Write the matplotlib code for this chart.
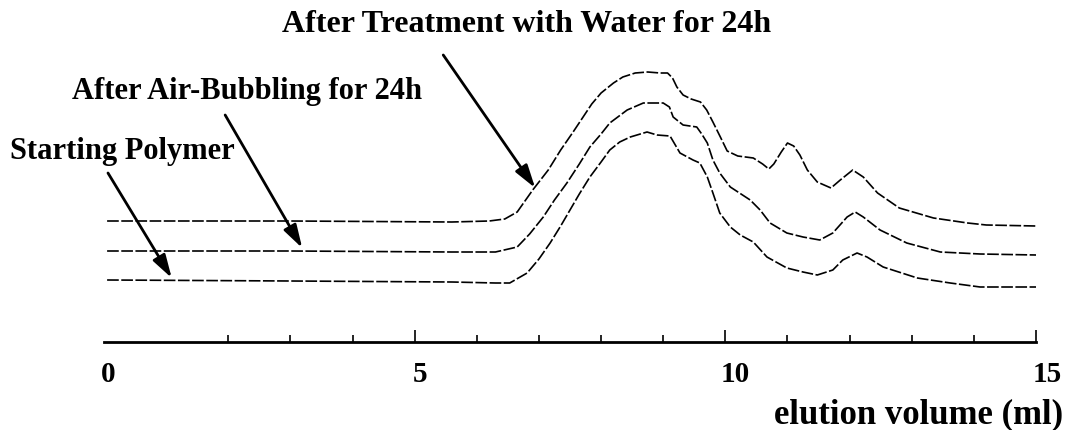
import numpy as np
import matplotlib.pyplot as plt
from matplotlib.transforms import ScaledTranslation

# elution volume (ml) / detector signal (arbitrary units)
water_x = [0.05, 3.0, 5.6, 6.2, 6.45, 6.65, 6.9, 7.15, 7.35, 7.55, 7.7, 7.85, 8.0, 8.2,
           8.35, 8.55, 8.75, 8.95, 9.07, 9.15, 9.22, 9.32, 9.45, 9.6, 9.7, 9.8, 9.92,
           10.03, 10.2, 10.45, 10.6, 10.7, 10.78, 10.9, 11.0, 11.1, 11.2, 11.32, 11.48,
           11.7, 11.85, 12.05, 12.22, 12.45, 12.8, 13.35, 13.9, 14.2, 15.0]
water_y = [121, 121, 120, 121, 123, 130, 152, 172, 192, 210, 224, 238, 249, 259,
           265, 269, 270, 269, 269, 264, 255, 247, 243, 240, 232, 220, 205,
           191, 186, 184, 178, 173, 178, 190, 199, 196, 187, 172, 160,
           154, 162, 172, 165, 149, 134, 124, 119, 117, 116]

air_x = [0.05, 3.0, 5.6, 6.3, 6.65, 6.85, 7.07, 7.25, 7.45, 7.65, 7.82, 8.0, 8.14,
         8.42, 8.68, 9.0, 9.1, 9.16, 9.32, 9.54, 9.62, 9.71, 9.8, 9.91, 10.08, 10.4,
         10.56, 10.72, 10.99, 11.25, 11.52, 11.73, 11.96, 12.09, 12.22, 12.49, 12.92,
         13.46, 14.1, 15.0]
air_y = [91, 91, 90, 90, 95, 108, 125, 142, 159, 178, 195, 208, 219,
         232, 239, 239, 235, 225, 217, 215, 208, 199, 182, 169, 155, 142,
         132, 119, 109, 105, 102, 109, 125, 130, 125, 112, 99,
         90, 88, 87]

start_x = [0.05, 3.0, 5.6, 6.3, 6.53, 6.81, 7.0, 7.18, 7.35, 7.5, 7.65, 7.82, 8.0,
           8.14, 8.3, 8.47, 8.74, 8.9, 9.11, 9.27, 9.48, 9.59, 9.71, 9.8, 9.91, 10.08,
           10.24, 10.45, 10.67, 10.99, 11.25, 11.48, 11.73, 11.89, 12.12, 12.28, 12.54,
           13.09, 13.62, 14.1, 15.0]
start_y = [62, 61, 60, 59, 59, 69, 83, 99, 116, 132, 148, 165, 180,
           192, 200, 205, 210, 207, 206, 189, 182, 179, 165, 149, 129, 115,
           107, 100, 85, 74, 70, 67, 72, 82, 89, 85, 75,
           64, 59, 55, 55]

labels = ['After Treatment with Water for 24h', 'After Air-Bubbling for 24h', 'Starting Polymer']
tick_vals = [0, 5, 10, 15]

plt.rcParams['font.family'] = ['Liberation Serif', 'DejaVu Serif']
plt.rcParams['font.weight'] = 'bold'

fig = plt.figure(figsize=(10.65, 4.3), dpi=100)
ax = fig.add_axes([104 / 1065, 88 / 430, 932 / 1065, 342 / 430])

for xs, ys in [(water_x, water_y), (air_x, air_y), (start_x, start_y)]:
    ax.plot(xs, ys, color='black', linewidth=1.2, linestyle=(0, (7, 1.5)))

ax.set_xlim(0, 15)
ax.set_ylim(0, 342)

for s in ['left', 'right', 'top']:
    ax.spines[s].set_visible(False)
ax.spines['bottom'].set_linewidth(2)
ax.set_yticks([])

ax.set_xticks(tick_vals)
ax.set_xticklabels([str(v) for v in tick_vals], fontsize=21, fontweight='bold')
ax.set_xticks(np.arange(0, 16, 1), minor=True)
ax.tick_params(axis='x', which='major', direction='in', length=9, width=1.2, pad=14)
ax.tick_params(axis='x', which='minor', direction='in', length=5, width=1.2)
ax.xaxis.get_major_ticks()[0].tick1line.set_visible(False)
ax.xaxis.get_minor_ticks()[0].tick1line.set_visible(False)

# labels in the original sit a little right of their ticks
for lab, dx in zip(ax.get_xticklabels(), [4, 5, 10, 11]):
    lab.set_transform(lab.get_transform() + ScaledTranslation(dx / 100, 0, fig.dpi_scale_trans))

ax.set_xlabel('elution volume (ml)', fontsize=25, fontweight='bold', ha='right', va='center')
ax.xaxis.set_label_coords(1.029, -0.214)

arrow = dict(arrowstyle='-|>,head_length=0.5,head_width=0.15', color='black', lw=2,
             mutation_scale=28, shrinkA=0, shrinkB=0)
ax.annotate(labels[0], xy=(6.94, 154), xytext=(2.87, 318), fontsize=23, fontweight='bold',
            va='center', ha='left', annotation_clip=False)
ax.annotate('', xy=(6.94, 154), xytext=(5.46, 287), arrowprops=arrow, annotation_clip=False)
ax.annotate(labels[1], xy=(3.19, 94), xytext=(-0.515, 250), fontsize=22, fontweight='bold',
            va='center', ha='left', annotation_clip=False)
ax.annotate('', xy=(3.19, 94), xytext=(1.95, 227), arrowprops=arrow, annotation_clip=False)
ax.annotate(labels[2], xy=(1.09, 64), xytext=(-1.51, 190), fontsize=22, fontweight='bold',
            va='center', ha='left', annotation_clip=False)
ax.annotate('', xy=(1.09, 64), xytext=(0.064, 169), arrowprops=arrow, annotation_clip=False)

plt.savefig('out.png', dpi=100)
